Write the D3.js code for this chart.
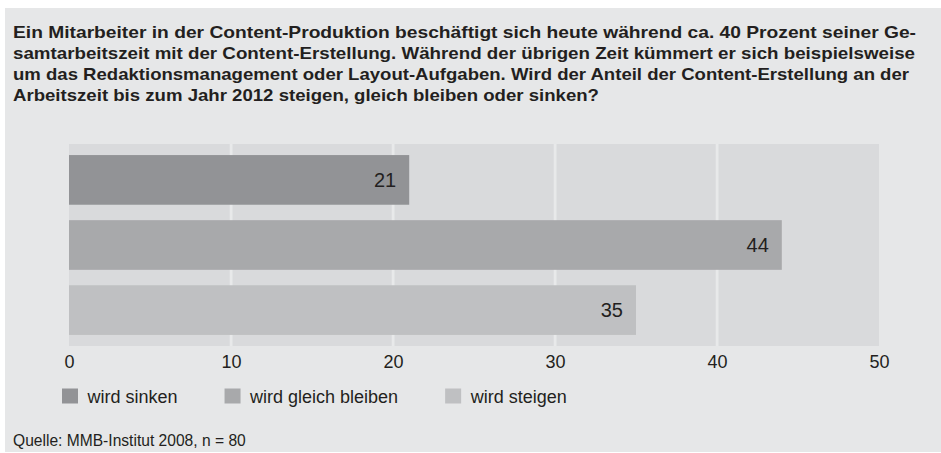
<!DOCTYPE html>
<html><head><meta charset="utf-8">
<script src="https://cdn.jsdelivr.net/npm/d3@7"></script>
<style>body{margin:0;background:#fff}svg{display:block}text{font-family:"Liberation Sans",Arial,sans-serif;fill:#231f20}</style>
</head><body><svg id="c" width="941" height="453"></svg>
<script>
const titleLines = [
 "Ein Mitarbeiter in der Content-Produktion beschäftigt sich heute während ca. 40 Prozent seiner Ge-",
 "samtarbeitszeit mit der Content-Erstellung. Während der übrigen Zeit kümmert er sich beispielsweise",
 "um das Redaktionsmanagement oder Layout-Aufgaben. Wird der Anteil der Content-Erstellung an der",
 "Arbeitszeit bis zum Jahr 2012 steigen, gleich bleiben oder sinken?"
];
const titleWidths = [903, 902, 896, 586];
const categories = ["wird sinken", "wird gleich bleiben", "wird steigen"];
const values = [21, 44, 35];
const colors = ["#929396", "#a8a9ab", "#bfc0c2"];
const ticks = [0, 10, 20, 30, 40, 50];
const source = "Quelle: MMB-Institut 2008, n = 80";

const svg = d3.select("#c");
svg.append("rect").attr("x",5).attr("y",8).attr("width",936).attr("height",444).attr("fill","#e6e7e8");

svg.selectAll("text.title").data(titleLines).join("text")
  .attr("class","title").attr("x",13).attr("y",(d,i)=>38+i*21)
  .attr("font-size",17).attr("font-weight","bold")
  .attr("textLength",(d,i)=>titleWidths[i]).attr("lengthAdjust","spacingAndGlyphs")
  .text(d=>d);

const x = d3.scaleLinear().domain([0,50]).range([69,879]);
const y = d3.scaleBand().domain(categories).range([144,346]).paddingInner(0.237).paddingOuter(0.17);

svg.append("rect").attr("x",x(0)).attr("y",144).attr("width",x(50)-x(0)).attr("height",202).attr("fill","#d9dadc");
svg.selectAll("rect.grid").data(ticks.filter(t=>t>0&&t<50)).join("rect")
  .attr("class","grid").attr("x",d=>x(d)-1.3).attr("y",144).attr("width",2.8).attr("height",202).attr("fill","#e8e9ea");

svg.selectAll("rect.bar").data(values).join("rect")
  .attr("class","bar").attr("x",x(0)).attr("y",(d,i)=>y(categories[i]))
  .attr("width",d=>x(d)-x(0)).attr("height",y.bandwidth()).attr("fill",(d,i)=>colors[i]);

svg.selectAll("text.val").data(values).join("text")
  .attr("class","val").attr("x",d=>x(d)-13).attr("y",(d,i)=>y(categories[i])+y.bandwidth()/2)
  .attr("dy","0.36em").attr("text-anchor","end").attr("font-size",20).text(d=>d);

const axis = d3.axisBottom(x).tickValues(ticks).tickSize(0).tickPadding(0);
const ag = svg.append("g").attr("transform","translate(0,355)").call(axis);
ag.select(".domain").remove();
ag.selectAll("text").attr("font-size",18).attr("dy","0.71em").attr("font-family","Liberation Sans, Arial, sans-serif").attr("fill","#231f20");

const lg = svg.append("g");
let lx = 62;
categories.forEach((c,i)=>{
  lg.append("rect").attr("x",lx).attr("y",388.5).attr("width",16).attr("height",15).attr("fill",colors[i]);
  const t = lg.append("text").attr("x",lx+25.5).attr("y",402.5).attr("font-size",18).text(c);
  lx += 25.5 + t.node().getComputedTextLength() + 47;
});

svg.append("text").attr("x",13).attr("y",446).attr("font-size",15.6).text(source);
</script></body></html>
